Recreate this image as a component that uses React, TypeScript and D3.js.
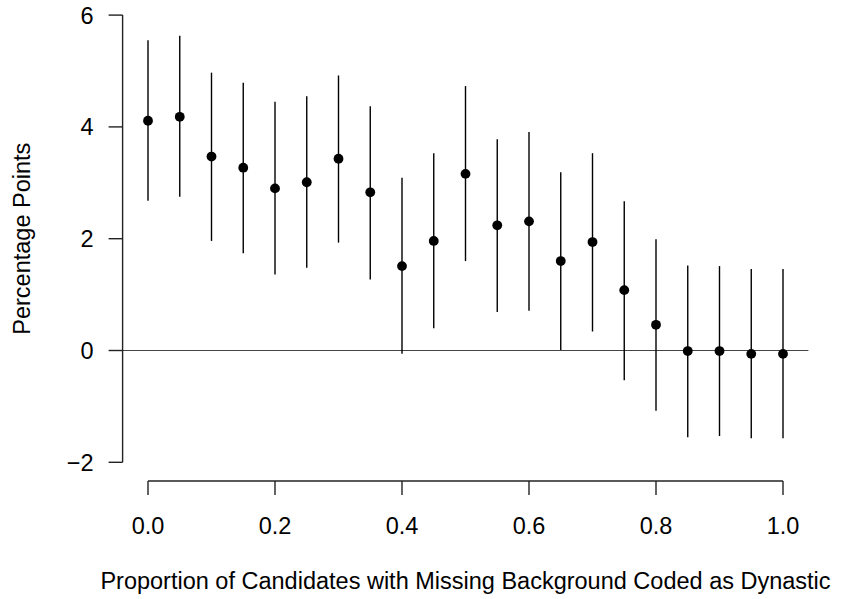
import React from "react";
import * as d3 from "d3";

const xValues = [0, 0.05, 0.1, 0.15, 0.2, 0.25, 0.3, 0.35, 0.4, 0.45, 0.5, 0.55, 0.6, 0.65, 0.7, 0.75, 0.8, 0.85, 0.9, 0.95, 1.0];
const estimates = [4.11, 4.18, 3.47, 3.27, 2.9, 3.01, 3.43, 2.83, 1.51, 1.96, 3.16, 2.24, 2.31, 1.6, 1.94, 1.08, 0.46, -0.01, -0.01, -0.06, -0.06];
const upper = [5.55, 5.63, 4.97, 4.79, 4.45, 4.55, 4.92, 4.37, 3.09, 3.53, 4.73, 3.78, 3.91, 3.19, 3.53, 2.67, 1.99, 1.52, 1.51, 1.46, 1.46];
const lower = [2.68, 2.75, 1.96, 1.74, 1.36, 1.48, 1.93, 1.27, -0.06, 0.4, 1.6, 0.69, 0.71, 0.01, 0.34, -0.53, -1.08, -1.55, -1.53, -1.57, -1.57];
const xTicks = [0, 0.2, 0.4, 0.6, 0.8, 1.0];
const yTicks = [-2, 0, 2, 4, 6];
const xTitle = "Proportion of Candidates with Missing Background Coded as Dynastic";
const yTitle = "Percentage Points";

export default function App() {
  const W = 841, H = 599;
  const x = d3.scaleLinear().domain([0, 1]).range([148, 783]);
  const y = d3.scaleLinear().domain([0, 6]).range([350.5, 15.1]);
  const xMin = x(-0.04), xMax = x(1.04);
  const axisY = 481;
  const axisX = 122.6;
  const font = "'Liberation Sans', Arial, Helvetica, sans-serif";
  const fs = 23.5;
  return (
    <div style={{ position: "fixed", left: 0, top: 0 }}>
      <svg width={W} height={H} style={{ display: "block", background: "#fff" }}>
        <line x1={xMin} x2={xMax} y1={y(0)} y2={y(0)} stroke="#444" strokeWidth={1.2} />
        {xValues.map((xv, i) => (
          <line key={"e" + i} x1={x(xv)} x2={x(xv)} y1={y(upper[i])} y2={y(lower[i])} stroke="#000" strokeWidth={1.4} />
        ))}
        {xValues.map((xv, i) => (
          <circle key={"p" + i} cx={x(xv)} cy={y(estimates[i])} r={4.9} fill="#000" />
        ))}
        <line x1={axisX} x2={axisX} y1={y(6)} y2={y(-2)} stroke="#222" strokeWidth={1.4} />
        {yTicks.map((t) => (
          <g key={"yt" + t}>
            <line x1={axisX - 14} x2={axisX} y1={y(t)} y2={y(t)} stroke="#222" strokeWidth={1.4} />
            <text x={93.5} y={y(t)} dy="0.36em" textAnchor="end" fontFamily={font} fontSize={fs} fill="#000">
              {t < 0 ? "\u2212" + Math.abs(t) : String(t)}
            </text>
          </g>
        ))}
        <line x1={x(0)} x2={x(1)} y1={axisY} y2={axisY} stroke="#222" strokeWidth={1.4} />
        {xTicks.map((t) => (
          <g key={"xt" + t}>
            <line x1={x(t)} x2={x(t)} y1={axisY} y2={axisY + 14} stroke="#222" strokeWidth={1.4} />
            <text x={x(t)} y={533.5} textAnchor="middle" fontFamily={font} fontSize={fs} fill="#000">
              {t.toFixed(1)}
            </text>
          </g>
        ))}
        <text x={(xMin + xMax) / 2} y={589} textAnchor="middle" fontFamily={font} fontSize={fs} fill="#000">
          {xTitle}
        </text>
        <text transform={`translate(30, ${(y(6) + y(-2)) / 2}) rotate(-90)`} textAnchor="middle" fontFamily={font} fontSize={fs} fill="#000">
          {yTitle}
        </text>
      </svg>
    </div>
  );
}
